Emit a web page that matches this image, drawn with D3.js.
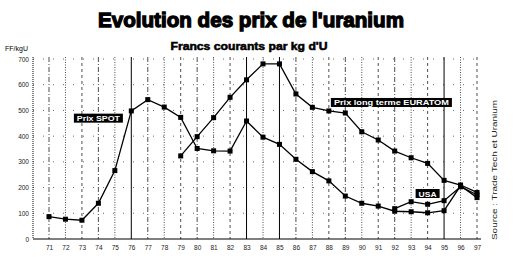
<!DOCTYPE html>
<html>
<head>
<meta charset="utf-8">
<script src="https://cdn.jsdelivr.net/npm/d3@7"></script>
<style>
  body { margin:0; background:#fff; }
  text { font-family: "Liberation Sans", Arial, sans-serif; fill:#000; }
  .tick text { font-size:6.5px; fill:#222; }
</style>
</head>
<body>
<div id="chart-area"></div>
<script>
var width = 528, height = 270;

// data
var years = [71,72,73,74,75,76,77,78,79,80,81,82,83,84,85,86,87,88,89,90,91,92,93,94,95,96,97];
var spotValues = [87,77,73,139,266,498,542,513,473,352,343,342,459,396,368,310,262,226,167,139,128,108,106,102,110,207,161];
var euratomYears = [79,80,81,82,83,84,85,86,87,88,89,90,91,92,93,94,95,96,97];
var euratomValues = [323,398,472,551,619,681,681,564,512,498,490,417,385,342,316,294,228,210,181];
var usaYears = [92,93,94,95,96,97];
var usaValues = [118,145,135,149,203,172];
var yTicks = [0,100,200,300,400,500,600,700];
var solidYears = [76,83,85,95];

var svg = d3.select("#chart-area")
    .append("svg")
        .attr("width", width)
        .attr("height", height);

// scales
var x = d3.scaleLinear().domain([71, 97]).range([49, 477]);
var y = d3.scaleLinear().domain([0, 700]).range([239, 59]);

// titles
svg.append("text")
    .attr("x", 251).attr("y", 27)
    .attr("text-anchor", "middle")
    .attr("font-size", "21px")
    .attr("font-weight", "bold")
    .attr("stroke", "#000").attr("stroke-width", 1.3)
    .attr("textLength", 306).attr("lengthAdjust", "spacingAndGlyphs")
    .text("Evolution des prix de l'uranium");
svg.append("text")
    .attr("x", 249).attr("y", 50)
    .attr("text-anchor", "middle")
    .attr("font-size", "10px")
    .attr("font-weight", "bold")
    .attr("stroke", "#000").attr("stroke-width", 0.5)
    .attr("textLength", 157).attr("lengthAdjust", "spacingAndGlyphs")
    .text("Francs courants par kg d'U");
svg.append("text")
    .attr("x", 5).attr("y", 51)
    .attr("font-size", "7px")
    .text("FF/kgU");

// vertical grid
svg.append("g").selectAll("line")
    .data(years)
    .enter().append("line")
        .attr("x1", function(d){ return x(d); })
        .attr("x2", function(d){ return x(d); })
        .attr("y1", y(700) - 2)
        .attr("y2", y(0))
        .attr("stroke", "#000")
        .attr("stroke-width", function(d){ return solidYears.indexOf(d) >= 0 ? 1 : 0.7; })
        .attr("stroke-dasharray", function(d, i){
            if (solidYears.indexOf(d) >= 0) return null;
            return i % 3 == 0 ? "5,2,1,2" : (i % 3 == 1 ? "1,1.5" : "3,3");
        });

// horizontal grid
svg.append("g").selectAll("line")
    .data(yTicks.slice(1))
    .enter().append("line")
        .attr("x1", 33).attr("x2", 480)
        .attr("y1", function(d){ return y(d); })
        .attr("y2", function(d){ return y(d); })
        .attr("stroke", "#000")
        .attr("stroke-width", 0.6)
        .attr("stroke-dasharray", "1,9");

// left axis (dotted) and bottom axis
svg.append("line")
    .attr("x1", 33).attr("x2", 33)
    .attr("y1", y(700) - 2).attr("y2", y(0))
    .attr("stroke", "#000").attr("stroke-dasharray", "1,1");
svg.append("line")
    .attr("x1", 33).attr("x2", 481)
    .attr("y1", y(0)).attr("y2", y(0))
    .attr("stroke", "#000").attr("stroke-width", 1.2);

var yAxisCall = d3.axisLeft(y).tickValues(yTicks).tickSize(0).tickPadding(4);
var yAxis = svg.append("g")
    .attr("transform", "translate(33,0)")
    .call(yAxisCall);
yAxis.select(".domain").remove();

var xAxisCall = d3.axisBottom(x).tickValues(years).tickSize(0).tickPadding(6)
    .tickFormat(function(d){ return d; });
var xAxis = svg.append("g")
    .attr("transform", "translate(0," + y(0) + ")")
    .call(xAxisCall);
xAxis.select(".domain").remove();

// series
var line = d3.line()
    .x(function(d){ return x(d[0]); })
    .y(function(d){ return y(d[1]); });

var series = [
    d3.zip(years, spotValues),
    d3.zip(euratomYears, euratomValues),
    d3.zip(usaYears, usaValues)
];

series.forEach(function(s){
    svg.append("path")
        .datum(s)
        .attr("fill", "none")
        .attr("stroke", "#000")
        .attr("stroke-width", 1.3)
        .attr("d", line);
    svg.append("g").selectAll("rect")
        .data(s)
        .enter().append("rect")
            .attr("x", function(d){ return x(d[0]) - 2.5; })
            .attr("y", function(d){ return y(d[1]) - 2.5; })
            .attr("width", 5)
            .attr("height", 5)
            .attr("fill", "#000");
});

// labels in black boxes
function boxLabel(text, cx, cy, w){
    svg.append("rect")
        .attr("x", cx - w / 2).attr("y", cy - 5)
        .attr("width", w).attr("height", 9)
        .attr("fill", "#000");
    svg.append("text")
        .attr("x", cx).attr("y", cy + 2.5)
        .attr("text-anchor", "middle")
        .attr("font-size", "8px")
        .attr("font-weight", "bold")
        .style("fill", "#fff")
        .attr("textLength", w - 6).attr("lengthAdjust", "spacingAndGlyphs")
        .text(text);
}
boxLabel("Prix SPOT", x(74), y(468), 49);
boxLabel("Prix long terme EURATOM", x(91.8), y(529), 121);
boxLabel("USA", x(94), y(175), 24);

// source
svg.append("text")
    .attr("transform", "translate(497,240) rotate(-90)")
    .attr("font-size", "7.5px")
    .style("fill", "#222")
    .attr("textLength", 140).attr("lengthAdjust", "spacingAndGlyphs")
    .text("Source : Trade Tech et Uranium");
</script>
</body>
</html>
